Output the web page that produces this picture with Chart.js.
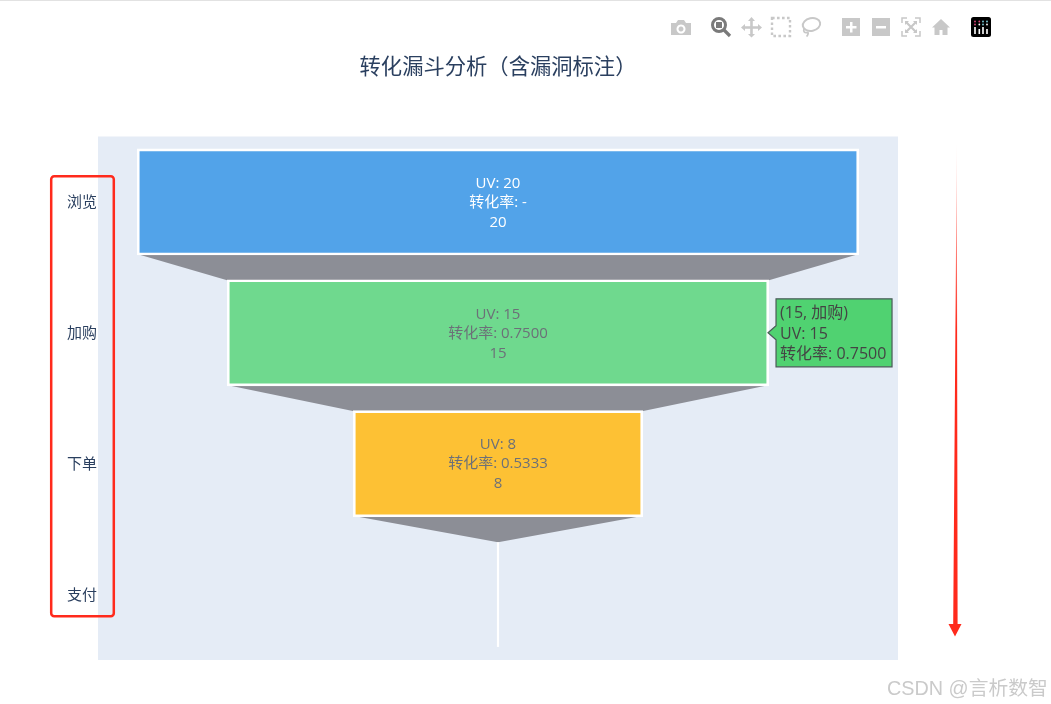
<!DOCTYPE html>
<html lang="zh">
<head>
    <meta charset="UTF-8">
    <title>转化漏斗分析</title>
    <script src="https://cdn.jsdelivr.net/npm/chart.js"></script>
    <style>
        body {
            margin: 0;
            background: #ffffff;
            width: 1051px;
            height: 704px;
            overflow: hidden;
            position: relative;
            font-family: "Open Sans", "Noto Sans CJK SC", sans-serif;
        }
        canvas { position: absolute; left: 0; top: 0; }
        #overlay { position: absolute; left: 0; top: 0; pointer-events: none; }
        #watermark {
            position: absolute;
            left: 887px;
            top: 675px;
            font-size: 19.800px;
            line-height: 26px;
            color: #cacaca;
            font-family: "Liberation Sans", "Noto Sans CJK SC", sans-serif;
            white-space: nowrap;
        }
    </style>
</head>
<body>
    <canvas id="funnelChart" width="1051" height="704"></canvas>

    <!-- toolbar and hand drawn marks that sit on top of the screenshot -->
    <svg id="overlay" width="1051" height="704" viewBox="0 0 1051 704">
        <defs>
            <linearGradient id="arrowFade" gradientUnits="userSpaceOnUse" x1="0" y1="125" x2="0" y2="330">
                <stop offset="0" stop-color="#ff2a1c" stop-opacity="0"/>
                <stop offset="1" stop-color="#ff2a1c"/>
            </linearGradient>
        </defs>
        <rect x="0" y="0" width="1051" height="1" fill="#e2e2e2"/>

        <!-- camera -->
        <path fill="#c8c8c8" fill-rule="evenodd" d="M671 23h5l2-3h6l2 3h5v12h-20z M681 24.5a4.5 4.5 0 1 0 .01 0z M681 26.5a2.5 2.5 0 1 1-.01 0z"/>
        <!-- zoom, active -->
        <circle cx="719" cy="25" r="6.5" fill="none" stroke="#7a7a7a" stroke-width="3"/>
        <rect x="716" y="22" width="6" height="6" fill="#7a7a7a"/>
        <path d="M724 30l6 6" stroke="#7a7a7a" stroke-width="3.2"/>
        <!-- pan -->
        <path fill="#c8c8c8" d="M751.500 17l3.500 4h-2.200v5.200h5.200V24l4 3.500-4 3.500v-2.200h-5.200V34h2.200l-3.500 3.500-3.500-3.500h2.200v-5.200h-5.200V31l-4-3.500 4-3.500v2.200h5.200V21h-2.200z"/>
        <!-- box select -->
        <rect x="772" y="18" width="18" height="18" fill="none" stroke="#c8c8c8" stroke-width="2.400" stroke-dasharray="2.600 2.400"/>
        <!-- lasso -->
        <ellipse cx="811.500" cy="24.500" rx="8.800" ry="6.300" fill="none" stroke="#c8c8c8" stroke-width="2" transform="rotate(-12 811.500 24.500)"/>
        <path d="M804 29c-1 3 1 4 3 3.500s1 3-.5 4" fill="none" stroke="#c8c8c8" stroke-width="1.800"/>
        <!-- zoom in / out -->
        <path fill="#c8c8c8" fill-rule="evenodd" d="M842 18h18v18h-18z M850 22v4h-4v2.500h4v4h2.500v-4h4V26h-4v-4z"/>
        <path fill="#c8c8c8" fill-rule="evenodd" d="M872 18h18v18h-18z M876 26v2.500h10V26z"/>
        <!-- autoscale -->
        <path fill="none" stroke="#c8c8c8" stroke-width="1.500" d="M902 23v-5h5 M915 18h5v5 M920 31v5h-5 M907 36h-5v-5"/>
        <path fill="none" stroke="#c8c8c8" stroke-width="2.200" d="M906 22l10 10 M916 22l-10 10"/>
        <path fill="#c8c8c8" d="M905 21h4l-4 4z M917 21h-4l4 4z M905 33h4l-4-4z M917 33h-4l4-4z"/>
        <!-- home -->
        <path fill="#c8c8c8" d="M941 19l9 8.500h-2.500V35h-5v-5h-3v5h-5v-7.500H932z"/>
        <!-- plotly logo -->
        <rect x="971" y="17" width="20" height="20" rx="2.500" fill="#000000"/>
        <path stroke="#ffffff" stroke-width="1.600" d="M975 27v7 M979.300 29v5 M983 27v7 M987 29v5"/>
        <g>
            <circle cx="975" cy="21.500" r="0.900" fill="#e0457b"/>
            <circle cx="979.300" cy="21.500" r="0.900" fill="#e0457b"/>
            <circle cx="983" cy="21.500" r="0.900" fill="#7fd1de"/>
            <circle cx="987" cy="21.500" r="0.900" fill="#7fd1de"/>
            <circle cx="975" cy="24.500" r="0.900" fill="#e0457b"/>
            <circle cx="979.300" cy="24.500" r="0.900" fill="#ffffff"/>
            <circle cx="983" cy="24.500" r="0.900" fill="#7fd1de"/>
            <circle cx="987" cy="24.500" r="0.900" fill="#ffffff"/>
        </g>

        <!-- red box round the category labels -->
        <rect x="51.200" y="176.200" width="62.600" height="440" rx="3" fill="none" stroke="#ff2a1c" stroke-width="2.500"/>

        <!-- red arrow -->
        <path fill="url(#arrowFade)" d="M956.800 142L957.600 624H961.500L955 636.500L948.500 624H953.200z"/>
    </svg>

    <div id="watermark">CSDN @言析数智</div>

    <script>
        const stages = ['浏览', '加购', '下单', '支付'];
        const uvValues = [20, 15, 8, 0];
        const rateLabels = ['-', '0.7500', '0.5333', '0.0000'];
        const barColors = ['#52a3e9', '#6fd98e', '#fdc134', '#e5483f'];
        const labelColors = ['#ffffff', '#6c7078', '#6c7078', '#6c7078'];
        const hoverIndex = 1;

        const labelFont = '15px "Open Sans", "Noto Sans CJK SC", sans-serif';
        const hoverFont = '16px "Open Sans", "Noto Sans CJK SC", sans-serif';

        // plot background and the grey connectors between the stages
        const funnelBackdrop = {
            id: 'funnelBackdrop',
            beforeDatasetsDraw(chart) {
                const { ctx, chartArea } = chart;
                ctx.save();
                ctx.fillStyle = '#e5ecf6';
                ctx.fillRect(chartArea.left, chartArea.top, chartArea.width, chartArea.height);

                const bars = chart.getDatasetMeta(0).data;
                ctx.fillStyle = '#8c8e96';
                for (let i = 0; i < bars.length - 1; i++) {
                    const a = bars[i].getProps(['x', 'y', 'base', 'height']);
                    const b = bars[i + 1].getProps(['x', 'y', 'base', 'height']);
                    ctx.beginPath();
                    ctx.moveTo(a.base, a.y + a.height / 2);
                    ctx.lineTo(a.x, a.y + a.height / 2);
                    ctx.lineTo(b.x, b.y - b.height / 2);
                    ctx.lineTo(b.base, b.y - b.height / 2);
                    ctx.closePath();
                    ctx.fill();
                }
                ctx.restore();
            }
        };

        // text in the bars, the zero width last stage and the hover label
        const funnelLabels = {
            id: 'funnelLabels',
            afterDatasetsDraw(chart) {
                const { ctx } = chart;
                const bars = chart.getDatasetMeta(0).data;
                ctx.save();
                ctx.font = labelFont;
                ctx.textAlign = 'center';
                ctx.textBaseline = 'middle';

                bars.forEach((bar, i) => {
                    if (uvValues[i] === 0) {
                        ctx.strokeStyle = '#ffffff';
                        ctx.lineWidth = 2.2;
                        ctx.beginPath();
                        ctx.moveTo(bar.x, bar.y - bar.height / 2);
                        ctx.lineTo(bar.x, bar.y + bar.height / 2);
                        ctx.stroke();
                        return;
                    }
                    const mid = (bar.x + bar.base) / 2;
                    ctx.fillStyle = labelColors[i];
                    ctx.fillText('UV: ' + uvValues[i], mid, bar.y - 18.5);
                    ctx.fillText('转化率: ' + rateLabels[i], mid, bar.y + 0.5);
                    ctx.fillText(String(uvValues[i]), mid, bar.y + 20.5);
                });

                // hover label
                const hovered = bars[hoverIndex];
                const tipX = hovered.x;
                const tipY = hovered.y;
                const left = tipX + 8;
                const right = left + 116;
                const top = tipY - 34;
                const bottom = tipY + 34;
                ctx.beginPath();
                ctx.moveTo(tipX, tipY);
                ctx.lineTo(left, tipY - 7);
                ctx.lineTo(left, top);
                ctx.lineTo(right, top);
                ctx.lineTo(right, bottom);
                ctx.lineTo(left, bottom);
                ctx.lineTo(left, tipY + 7);
                ctx.closePath();
                ctx.fillStyle = '#50d271';
                ctx.fill();
                ctx.strokeStyle = '#4a5a58';
                ctx.lineWidth = 1.2;
                ctx.stroke();

                ctx.font = hoverFont;
                ctx.fillStyle = '#444444';
                ctx.textAlign = 'left';
                ctx.fillText('(' + uvValues[hoverIndex] + ', ' + stages[hoverIndex] + ')', left + 4, tipY - 19);
                ctx.fillText('UV: ' + uvValues[hoverIndex], left + 4, tipY + 1.5);
                ctx.fillText('转化率: ' + rateLabels[hoverIndex], left + 4, tipY + 22);
                ctx.restore();
            }
        };

        new Chart(document.getElementById('funnelChart'), {
            type: 'bar',
            data: {
                labels: stages,
                datasets: [{
                    data: uvValues.map(v => [-v / 2, v / 2]),
                    backgroundColor: barColors,
                    borderColor: '#ffffff',
                    borderWidth: 2.6,
                    borderSkipped: false,
                    inflateAmount: 1,
                    categoryPercentage: 1,
                    barPercentage: 0.8
                }]
            },
            options: {
                indexAxis: 'y',
                responsive: false,
                animation: false,
                events: [],
                layout: {
                    padding: { left: 0, right: 153, top: 0, bottom: 44 }
                },
                plugins: {
                    legend: { display: false },
                    tooltip: { enabled: false },
                    title: {
                        display: true,
                        text: '转化漏斗分析（含漏洞标注）',
                        fullSize: false,
                        color: '#2a3f5f',
                        font: { family: '"Open Sans", "Noto Sans CJK SC", sans-serif', size: 21.3, weight: 'normal', lineHeight: 1.2 },
                        padding: { top: 55.22, bottom: 55.72 }
                    }
                },
                scales: {
                    x: {
                        display: false,
                        min: -11.11,
                        max: 11.11
                    },
                    y: {
                        grid: { display: false, drawTicks: false },
                        border: { display: false },
                        ticks: {
                            color: '#2a3f5f',
                            padding: 1,
                            labelOffset: 1,
                            font: { family: '"Open Sans", "Noto Sans CJK SC", sans-serif', size: 15 }
                        },
                        afterFit(scale) { scale.width = 98; }
                    }
                }
            },
            plugins: [funnelBackdrop, funnelLabels]
        });
    </script>
</body>
</html>
